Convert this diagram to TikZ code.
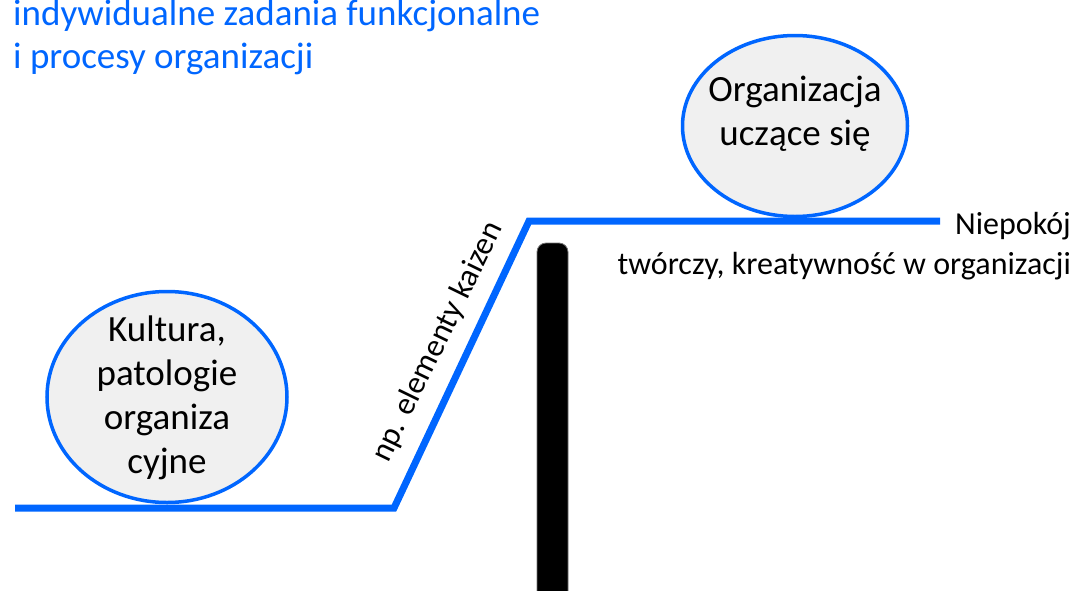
\documentclass[tikz,border=0pt]{standalone}
\usepackage{fontspec}
\setmainfont{Carlito}
\usetikzlibrary{shapes.geometric}
\definecolor{lineblue}{RGB}{0,102,255}
\definecolor{circfill}{RGB}{240,240,240}
\begin{document}
\begin{tikzpicture}[x=1pt,y=-1pt,
  blueline/.style={draw=lineblue,line width=7pt,line join=miter},
  bubble/.style={ellipse,draw=lineblue,line width=3.5pt,fill=circfill,inner sep=0pt},
  bubbletext/.style={align=center,inner sep=0pt,font=\fontsize{37}{44}\selectfont},
  bartext/.style={inner sep=0pt,font=\fontsize{32}{40}\selectfont}]
\useasboundingbox (0,0) rectangle (1080,590);
% title
\node[anchor=north west,align=left,inner sep=0pt,text=lineblue,
      font=\fontsize{37}{43}\selectfont] (title) at (13,0)
  {indywidualne zadania funkcjonalne\\i procesy organizacji};
% path
\coordinate (p0) at (15,508);
\coordinate (p1) at (394,508);
\coordinate (p2) at (529,221);
\coordinate (p3) at (940,221);
\draw[blueline] (p0) -- (p1) -- (p2) -- (p3);
% barrier
\fill[black,draw=black!55,line width=0.8pt,rounded corners=9pt] (537,243) rectangle (568,600);
% circles
\node[bubble,minimum width=240pt,minimum height=211pt] (left) at (167,397) {};
\node[bubbletext] (lefttext) at (167,398) {Kultura,\\patologie\\organiza\\cyjne};
\node[bubble,minimum width=225pt,minimum height=181pt] (right) at (795,126) {};
\node[bubbletext] (righttext) at (795,114) {Organizacja\\uczące się};
% labels
\node[bartext,rotate=64] (kaizen) at (438,342) {np. elementy kaizen};
\node[bartext,anchor=north east,align=right] (niepokoj) at (1071,212)
  {Niepokój\\twórczy, kreatywność w organizacji};
\end{tikzpicture}
\end{document}
